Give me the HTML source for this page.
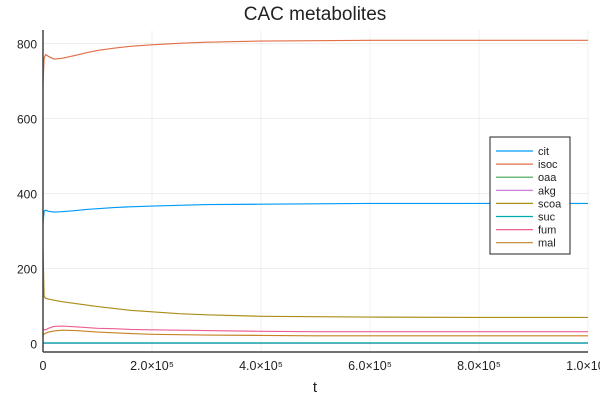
<!DOCTYPE html>
<html><head><meta charset="utf-8"><style>
body{margin:0;background:#fff;overflow:hidden}
text{font-family:"Liberation Sans","DejaVu Sans",sans-serif;fill:#222}
</style></head><body>
<svg id="chart" width="600" height="400" xmlns="http://www.w3.org/2000/svg">
<rect width="600" height="400" fill="#fff"/>
<text x="315" y="20" font-size="19" text-anchor="middle">CAC metabolites</text>
<g id="grid"></g>
<g id="series"></g>
<g id="axes"></g>
<text x="315" y="392" font-size="15" text-anchor="middle">t</text>
<g id="legend"></g>
</svg>
<script>
const times=[0,0.02,0.05,0.1,0.2,0.35,0.6,0.8,1,1.3,1.6,2,2.5,3,4,5,6,8,10];
const cit=[320,352,355,352,350,351,354,357,359,362,364,366,368,370,371,372,373,373,373];
const isoc=[690,760,770,765,758,760,768,775,781,787,792,796,800,803,806,807,808,808,808];
const oaa=[1,1,1,1,1,1,1,1,1,1,1,1,1,1,1,1,1,1,1];
const akg=[0.5,0.5,0.5,0.5,0.5,0.5,0.5,0.5,0.5,0.5,0.5,0.5,0.5,0.5,0.5,0.5,0.5,0.5,0.5];
const scoa=[250,125,120,118,115,111,106,102,98,93,88,84,79,76,72,71,70,69,69];
const suc=[0.8,0.8,0.8,0.8,0.8,0.8,0.8,0.8,0.8,0.8,0.8,0.8,0.8,0.8,0.8,0.8,0.8,0.8,0.8];
const fum=[40,36,36,40,45,46,44,42,40,39,37,36,35,34,32,31,31,31,31];
const mal=[20,25,27,30,33,35,34,32,30,28,26,24,23,22,21,20,20,20,20];
const seriesNames=["cit","isoc","oaa","akg","scoa","suc","fum","mal"];
const seriesData=[cit,isoc,oaa,akg,scoa,suc,fum,mal];
const colors=["#009af9","#e26f46","#3da44d","#c271d2","#ac8d18","#00a9ad","#ed5e93","#c68225"];
const yTicks=[0,200,400,600,800];
const xTicks=[0,2,4,6,8,10];
const xTickLabels=["0","2.0×10⁵","4.0×10⁵","6.0×10⁵","8.0×10⁵","1.0×10⁶"];
const X0=43,X1=588,YT=30,YB=352;
const xs=t=>X0+(t/10)*(X1-X0);
const ys=v=>343.3-v*0.375;
const NS="http://www.w3.org/2000/svg";
function mk(tag,attrs,parent){const e=document.createElementNS(NS,tag);for(const k in attrs)e.setAttribute(k,attrs[k]);parent.appendChild(e);return e;}
const grid=document.getElementById('grid'),axes=document.getElementById('axes'),ser=document.getElementById('series'),leg=document.getElementById('legend');
yTicks.forEach(v=>{
 const l=mk('line',{x1:X0,x2:X1,y1:ys(v),y2:ys(v),stroke:'#000','stroke-opacity':0.1,'stroke-width':0.6},grid);
 
 
 const t=mk('text',{x:X0-6,y:ys(v)+5,'font-size':12,'text-anchor':'end'},axes);t.textContent=v;
 
 
});
xTicks.forEach((v,i)=>{
 const l=mk('line',{x1:xs(v),x2:xs(v),y1:YT,y2:YB,stroke:'#000','stroke-opacity':0.1,'stroke-width':0.6},grid);
 
 
 const t=mk('text',{x:xs(v),y:370,'font-size':12.5,'text-anchor':'middle'},axes);t.textContent=xTickLabels[i];
 
 
});
const ax1=mk('line',{x1:X0,x2:X0,y1:YT,y2:YB,stroke:'#444','stroke-width':1.5},axes);


const ax2=mk('line',{x1:X0,x2:X1,y1:YB,y2:YB,stroke:'#444','stroke-width':1.5},axes);


seriesData.forEach((d,i)=>{
 const p=mk('polyline',{points:d.map((v,j)=>xs(times[j])+','+ys(v)).join(' '),fill:'none',stroke:colors[i],'stroke-width':1.2,'stroke-linejoin':'round'},ser);
 
 
});
const box=mk('rect',{x:490,y:137,width:80,height:117,fill:'#fff',stroke:'#222','stroke-width':1},leg);


seriesNames.forEach((n,i)=>{
 const y=151+i*13.1;
 const l=mk('line',{x1:496,x2:533,y1:y,y2:y,stroke:colors[i],'stroke-width':1.2},leg);
 
 
 const t=mk('text',{x:538,y:y+4,'font-size':11},leg);t.textContent=n;
 
 
});
</script>
</body></html>
